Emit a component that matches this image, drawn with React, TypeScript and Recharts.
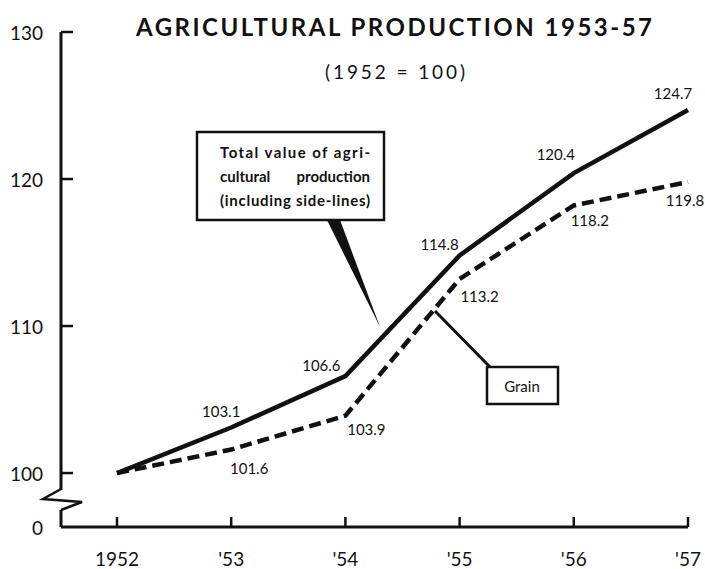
import { LineChart, Line, XAxis, YAxis, LabelList } from "recharts";

const years = ["1952", "'53", "'54", "'55", "'56", "'57"];
const totalValue = [100, 103.1, 106.6, 114.8, 120.4, 124.7];
const grainValue = [100, 101.6, 103.9, 113.2, 118.2, 119.8];

// axis is broken between 0 and 100; the floor value stands for the "0" tick
const yFloor = 96.33;
const yTicks = [yFloor, 100, 110, 120, 130];
const yTickLabels = ["0", "100", "110", "120", "130"];

// label offsets from each point (px)
const totalLabelOffsets = [[0, 0], [-10, -16], [-24, -11], [-20, -11], [-18, -19], [-15, -17]];
const grainLabelOffsets = [[0, 0], [18, 18], [21, 13], [20, 17], [16, 15], [-3, 18]];

const data = years.map((year, i) => ({
  year,
  total: totalValue[i],
  grain: grainValue[i],
}));

const FONT = "Lato, 'Open Sans', sans-serif";
const INK = "#111";

const makeLabel = (offsets: number[][]) => (props: any) => {
  const { x, y, value, index } = props;
  if (index === 0) return null;
  const [dx, dy] = offsets[index];
  return (
    <text
      x={x + dx}
      y={y + dy}
      textAnchor="middle"
      dominantBaseline="central"
      fontFamily={FONT}
      fontSize={15}
      fill={INK}
    >
      {value}
    </text>
  );
};

const YTick = (props: any) => {
  const { x, y, payload } = props;
  const i = yTicks.indexOf(payload.value);
  const label = yTickLabels[i] ?? String(payload.value);
  const isFloor = payload.value === yFloor;
  return (
    <g>
      {isFloor ? (
        <g>
          <rect x={x - 4} y={y - 37} width={8} height={20} fill="#fff" />
          <polyline
            points={`${x},${y - 38} ${x - 18},${y - 28} ${x + 21},${y - 25} ${x},${y - 17}`}
            fill="none"
            stroke={INK}
            strokeWidth={2.5}
            strokeLinejoin="miter"
          />
        </g>
      ) : (
        <line x1={x} y1={y} x2={x + 12} y2={y} stroke={INK} strokeWidth={2.5} />
      )}
      <text
        x={x - 18}
        y={y}
        textAnchor="end"
        dominantBaseline="central"
        fontFamily={FONT}
        fontSize={19}
        fill={INK}
      >
        {label}
      </text>
    </g>
  );
};

const XTick = (props: any) => {
  const { x, y, payload } = props;
  return (
    <g>
      <line x1={x} y1={y} x2={x} y2={y - 10} stroke={INK} strokeWidth={2.5} />
      <text
        x={x}
        y={y + 31}
        textAnchor="middle"
        dominantBaseline="central"
        fontFamily={FONT}
        fontSize={19}
        fill={INK}
      >
        {payload.value}
      </text>
    </g>
  );
};

export default function App() {
  return (
    <div style={{ position: "absolute", left: 0, top: 0, width: 705, height: 569, background: "#fff" }}>
      <LineChart
        width={705}
        height={569}
        data={data}
        margin={{ top: 32, right: 17, bottom: 0, left: 0 }}
      >
        <XAxis
          dataKey="year"
          height={42}
          padding={{ left: 56, right: 0 }}
          interval={0}
          tickLine={false}
          tickSize={0}
          tickMargin={0}
          axisLine={{ stroke: INK, strokeWidth: 3 }}
          tick={<XTick />}
        />
        <YAxis
          type="number"
          width={61}
          domain={[yFloor, 130]}
          ticks={yTicks}
          interval={0}
          allowDataOverflow
          tickLine={false}
          tickSize={0}
          tickMargin={0}
          axisLine={{ stroke: INK, strokeWidth: 3 }}
          tick={<YTick />}
        />
        <Line
          dataKey="grain"
          stroke={INK}
          strokeWidth={4.5}
          strokeDasharray="12 6"
          dot={false}
          isAnimationActive={false}
        >
          <LabelList dataKey="grain" content={makeLabel(grainLabelOffsets)} />
        </Line>
        <Line
          dataKey="total"
          stroke={INK}
          strokeWidth={4.5}
          dot={false}
          isAnimationActive={false}
        >
          <LabelList dataKey="total" content={makeLabel(totalLabelOffsets)} />
        </Line>
      </LineChart>
      <svg
        width={705}
        height={569}
        style={{ position: "absolute", left: 0, top: 0, pointerEvents: "none" }}
      >
        <text
          x={136}
          y={26}
          textLength={516}
          lengthAdjust="spacing"
          dominantBaseline="central"
          fontFamily={FONT}
          fontWeight={700}
          fontSize={24}
          fill={INK}
        >
          AGRICULTURAL PRODUCTION 1953-57
        </text>
        <text
          x={325}
          y={71}
          textLength={140}
          lengthAdjust="spacing"
          dominantBaseline="central"
          fontFamily={FONT}
          fontSize={19}
          fill={INK}
        >
          (1952 = 100)
        </text>

        <rect x={197} y={132} width={187} height={88} fill="#fff" stroke={INK} strokeWidth={2.5} />
        <polygon points="327,220 340,220 380,327" fill={INK} />
        <g fontFamily={FONT} fontWeight={700} fontSize={15} fill={INK} dominantBaseline="central">
          <text x={220} y={152} textLength={150} lengthAdjust="spacing">Total value of agri-</text>
          <text x={220} y={176}>cultural</text>
          <text x={370} y={176} textAnchor="end">production</text>
          <text x={220} y={200} textLength={150} lengthAdjust="spacing">(including side-lines)</text>
        </g>

        <line x1={435} y1={311} x2={490} y2={367} stroke={INK} strokeWidth={3} />
        <rect x={487} y={367} width={71} height={37} fill="#fff" stroke={INK} strokeWidth={2.5} />
        <text
          x={522}
          y={386}
          textAnchor="middle"
          dominantBaseline="central"
          fontFamily={FONT}
          fontSize={15}
          fill={INK}
        >
          Grain
        </text>
      </svg>
    </div>
  );
}
